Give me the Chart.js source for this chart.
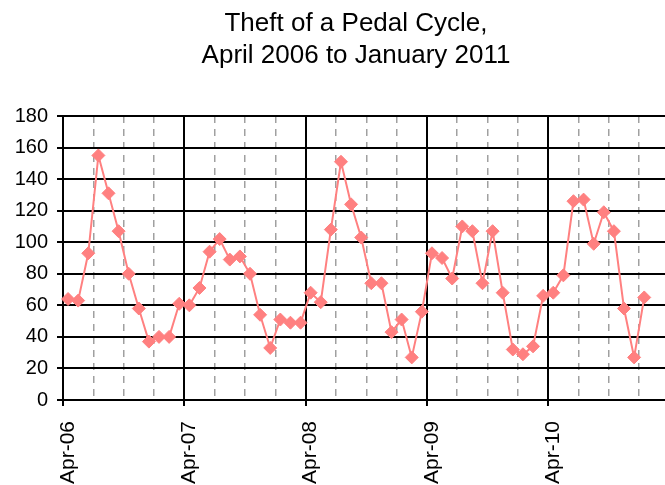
<!DOCTYPE html>
<html>
<head>
<meta charset="utf-8">
<script src="https://cdn.jsdelivr.net/npm/chart.js@4/dist/chart.umd.min.js"></script>
<style>
  html, body { margin: 0; padding: 0; background: #fff; overflow: hidden; }
  #wrap { position: relative; width: 665px; height: 485px; overflow: hidden; }
  #title {
    position: absolute; left: 156px; top: 6px; width: 400px;
    text-align: center; font-family: "Liberation Sans", Arial, sans-serif;
    font-size: 26px; line-height: 32px; color: #000;
  }
  #myChart { position: absolute; left: 0; top: 0; }
</style>
</head>
<body>
<div id="wrap">
  <canvas id="myChart" width="677" height="485"></canvas>
  <div id="title">Theft of a Pedal Cycle,<br>April 2006 to January 2011</div>
</div>
<script>
// monthly categories Apr-06 .. Mar-11 (axis runs past the last point)
const months = ["Apr", "May", "Jun", "Jul", "Aug", "Sep", "Oct", "Nov", "Dec", "Jan", "Feb", "Mar"];
const labels = [];
for (let y = 6; y <= 10; y++) {
  months.forEach((m, i) => {
    const yr = i < 9 ? y : y + 1;
    labels.push(m + "-" + String(yr).padStart(2, "0"));
  });
}

const thefts = [
  64, 63, 93, 155, 131, 107, 80, 58, 37, 40, 40, 61,
  60, 71, 94, 102, 89, 91, 80, 54, 33, 51, 49, 49,
  68, 62, 108, 151, 124, 103, 74, 74, 43, 51, 27, 56,
  93, 90, 77, 110, 107, 74, 107, 68, 32, 29, 34, 66,
  68, 79, 126, 127, 99, 119, 107, 58, 27, 65
];

const yTicks = [0, 20, 40, 60, 80, 100, 120, 140, 160, 180];

const font = "'Liberation Sans', Arial, sans-serif";

const ctx = document.getElementById("myChart").getContext("2d");
new Chart(ctx, {
  type: "line",
  data: {
    labels: labels,
    datasets: [{
      data: thefts,
      borderColor: "#ff8080",
      backgroundColor: "#ff8080",
      borderWidth: 2,
      pointStyle: "rectRot",
      pointRadius: 6.5,
      pointBorderWidth: 1,
      pointBackgroundColor: "#ff8080",
      pointBorderColor: "#ff8080",
      tension: 0,
    }],
  },
  options: {
    responsive: false,
    devicePixelRatio: 1,
    animation: false,
    layout: { padding: { top: 116, right: 4, left: 0, bottom: 0 } },
    plugins: {
      legend: { display: false },
      tooltip: { enabled: false },
      title: { display: false },
    },
    scales: {
      x: {
        type: "category",
        offset: true,
        afterFit: (s) => {
          s.height = 85;
          s.paddingLeft = 0;
          s.paddingRight = 0;
        },
        grid: {
          offset: true,
          drawOnChartArea: true,
          color: (c) => {
            if (c.index % 12 === 0) return "#000";
            if (c.index % 3 === 0) return "#a0a0a0";
            return "rgba(0,0,0,0)";
          },
          lineWidth: (c) => (c.index % 12 === 0 ? 2 : 1.5),
          tickColor: (c) => (c.index % 12 === 0 ? "#000" : "rgba(0,0,0,0)"),
          tickLength: 6,
          tickWidth: 2,
        },
        border: {
          color: "#000",
          width: 2,
          dash: (c) => (c.index !== undefined && c.index % 12 !== 0 ? [7, 6] : []),
        },
        ticks: {
          autoSkip: false,
          minRotation: 90,
          maxRotation: 90,
          padding: 15,
          color: "#000",
          font: { family: font, size: 21 },
          callback: (val, idx) => (idx % 12 === 0 ? labels[idx] : ""),
        },
      },
      y: {
        min: 0,
        max: 180,
        afterFit: (s) => { s.width = 63; },
        afterBuildTicks: (s) => { s.ticks = yTicks.map((v) => ({ value: v })); },
        grid: {
          color: "#000",
          lineWidth: 2,
          tickLength: 6,
          tickColor: "#000",
        },
        border: { color: "#000", width: 2 },
        ticks: {
          padding: 9,
          color: "#000",
          font: { family: font, size: 20 },
        },
      },
    },
  },
});
</script>
</body>
</html>
